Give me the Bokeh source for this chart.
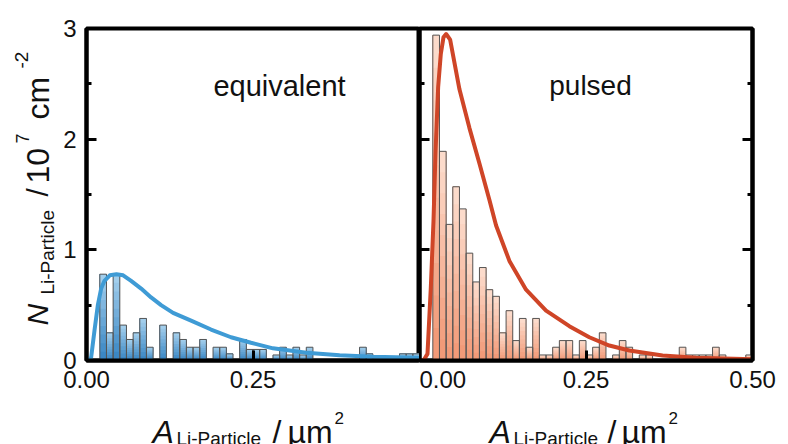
import math
from bokeh.plotting import figure
from bokeh.models import (Range1d, FixedTicker, NumeralTickFormatter, LinearAxis,
                          Label, CustomJSTickFormatter)
from bokeh.layouts import row, column
from bokeh.embed import file_html
from bokeh.resources import INLINE

# ---------------- data ----------------
bin_left = [0.00, 0.01, 0.02, 0.03, 0.04, 0.05, 0.06, 0.07, 0.08, 0.09,
            0.10, 0.11, 0.12, 0.13, 0.14, 0.15, 0.16, 0.17, 0.18, 0.19,
            0.20, 0.21, 0.22, 0.23, 0.24, 0.25, 0.26, 0.27, 0.28, 0.29,
            0.30, 0.31, 0.32, 0.33, 0.34, 0.35, 0.36, 0.37, 0.38, 0.39,
            0.40, 0.41, 0.42, 0.43, 0.44, 0.45, 0.46, 0.47, 0.48, 0.49]
bin_width = 0.01

equiv_counts = [0, 0, 0.78, 0.25, 0.78, 0.32, 0.19, 0.25, 0.38, 0.12,
                0, 0.32, 0, 0.25, 0.19, 0.12, 0.12, 0.19, 0, 0.12,
                0.12, 0.06, 0, 0.19, 0.10, 0.10, 0.10, 0, 0.05, 0.12,
                0.05, 0.12, 0.05, 0.12, 0, 0, 0, 0, 0, 0,
                0, 0.12, 0.06, 0, 0, 0, 0, 0.06, 0.06, 0.06]

pulsed_counts = [0, 0, 2.94, 1.89, 1.23, 1.57, 1.37, 0.97, 0.71, 0.84,
                 0.64, 0.58, 0.25, 0.45, 0.18, 0.38, 0.12, 0.38, 0.05, 0.05,
                 0.12, 0.18, 0.18, 0.05, 0.18, 0.05, 0.12, 0.25, 0, 0.05,
                 0.18, 0.12, 0, 0.05, 0.05, 0, 0, 0, 0, 0.12,
                 0.05, 0.05, 0.05, 0.05, 0.12, 0.05, 0, 0, 0, 0.05]

equiv_fit_x = [0.0, 0.004, 0.007, 0.012, 0.017, 0.022, 0.027, 0.035, 0.045, 0.055,
               0.067, 0.082, 0.097, 0.112, 0.13, 0.157, 0.187, 0.217, 0.247, 0.28,
               0.33, 0.38, 0.43, 0.5]
equiv_fit_y = [0.0, 0.0, 0.03, 0.27, 0.50, 0.65, 0.72, 0.77, 0.78, 0.77,
               0.72, 0.65, 0.57, 0.50, 0.43, 0.36, 0.28, 0.21, 0.16, 0.11,
               0.07, 0.048, 0.033, 0.024]

pulsed_fit_x = [0.0, 0.006, 0.012, 0.017, 0.021, 0.024, 0.028, 0.032, 0.036, 0.040,
                0.046, 0.060, 0.075, 0.090, 0.105, 0.115, 0.135, 0.160, 0.190, 0.225,
                0.255, 0.285, 0.315, 0.365, 0.415, 0.5]
pulsed_fit_y = [0.0, 0.0, 0.06, 0.66, 1.26, 1.87, 2.47, 2.77, 2.92, 2.95,
                2.90, 2.45, 2.10, 1.78, 1.45, 1.22, 0.90, 0.64, 0.45, 0.31,
                0.21, 0.135, 0.09, 0.045, 0.025, 0.012]

y_ticks = [0, 1, 2, 3]
y_minor = [0.5, 1.5, 2.5]
x_ticks_left = [0, 0.25]
x_ticks_right = [0, 0.25, 0.5]
panel_names = ["equivalent", "pulsed"]

# ---------------- layout constants (canvas px) ----------------
FONT = "Liberation Sans"
INK = "#111111"
TOP, FRAME_H, BOTTOM = 28, 332, 40
ROW_H = TOP + FRAME_H + BOTTOM          # 400
XLAB_H = 44
YLAB_W = 56
AXIS_B = 30
FRAME_W, RIGHT_B = 333, 32
X0_LEFT = YLAB_W + AXIS_B               # 86
X0_RIGHT = X0_LEFT + FRAME_W            # 419
Y0 = TOP + FRAME_H                      # 360
LINE_W = 4


def hex2rgb(h):
    h = h.lstrip("#")
    return [int(h[i:i + 2], 16) for i in (0, 2, 4)]


def lerp(c1, c2, t):
    a, b = hex2rgb(c1), hex2rgb(c2)
    return "#%02x%02x%02x" % tuple(int(round(a[i] + (b[i] - a[i]) * t)) for i in range(3))


def make_panel(width, border_left, border_right):
    p = figure(width=width, height=ROW_H,
               x_range=Range1d(0, 0.5), y_range=Range1d(0, 3),
               output_backend="svg", toolbar_location=None,
               min_border_left=border_left, min_border_right=border_right,
               min_border_top=TOP, min_border_bottom=BOTTOM)
    p.grid.visible = False
    p.outline_line_color = "black"
    p.outline_line_width = LINE_W
    p.background_fill_color = "white"
    p.border_fill_color = "white"
    return p


def make_text_canvas(width, height, y_lo, y_hi, b_top, b_bottom):
    p = figure(width=width, height=height,
               x_range=Range1d(0, width), y_range=Range1d(y_lo, y_hi),
               output_backend="svg", toolbar_location=None,
               x_axis_location=None, y_axis_location=None,
               min_border_left=0, min_border_right=0,
               min_border_top=b_top, min_border_bottom=b_bottom)
    p.grid.visible = False
    p.outline_line_color = None
    p.background_fill_color = "white"
    p.border_fill_color = "white"
    return p


def style_axis(ax, labels=True):
    ax.axis_line_width = LINE_W
    ax.axis_line_color = "black"
    ax.major_tick_line_width = 3
    ax.minor_tick_line_width = 3
    ax.major_tick_in = 10
    ax.major_tick_out = 0
    ax.minor_tick_in = 5
    ax.minor_tick_out = 0
    if labels:
        ax.major_label_text_font = FONT
        ax.major_label_text_font_size = "24px"
        ax.major_label_text_color = INK
    else:
        ax.formatter = CustomJSTickFormatter(code="return ''")
        ax.major_label_standoff = 0
        ax.axis_label = None


def draw_hist(p, counts, c_bottom, c_top):
    n_slices = 10
    keep = [(xl, h) for xl, h in zip(bin_left, counts) if h > 0]
    lefts = [xl for xl, h in keep]
    rights = [xl + bin_width for xl, h in keep]
    for k in range(n_slices):
        bots = [h * k / n_slices for xl, h in keep]
        tops = [h for xl, h in keep]
        p.quad(left=lefts, right=rights, bottom=bots, top=tops,
               fill_color=lerp(c_bottom, c_top, (k + 0.5) / n_slices),
               line_color=None)
    p.quad(left=lefts, right=rights, bottom=0, top=[h for xl, h in keep],
           fill_alpha=0, line_color="#555555", line_width=1)


def put(p, text, x, y, size, italic=False, angle=0.0, align="left"):
    p.add_layout(Label(x=x, y=y, x_units="data", y_units="data", text=text,
                       text_font=FONT, text_font_size=size,
                       text_font_style="italic" if italic else "normal",
                       text_color=INK, angle=angle,
                       text_align=align, text_baseline="alphabetic"))


def panel_text(p, text, page_x, page_y, x0, size):
    put(p, text, (page_x - x0) / (FRAME_W / 0.5), (Y0 - page_y) / (FRAME_H / 3.0),
        size, align="center")


# ---------------- left panel ----------------
p1 = make_panel(AXIS_B + FRAME_W, AXIS_B, 0)
draw_hist(p1, equiv_counts, "#3583c2", "#a8d2ee")
p1.line(equiv_fit_x, equiv_fit_y, line_width=4, line_color="#3f9bd5", line_join="round")
p1.yaxis.ticker = FixedTicker(ticks=y_ticks, minor_ticks=y_minor)
p1.xaxis.ticker = FixedTicker(ticks=x_ticks_left, minor_ticks=[])
p1.xaxis.formatter = NumeralTickFormatter(format="0.00")
style_axis(p1.yaxis[0])
style_axis(p1.xaxis[0])
p1.yaxis.major_label_standoff = 10
p1.xaxis.major_label_standoff = 10
panel_text(p1, panel_names[0], 279, 85, X0_LEFT, "29px")

# ---------------- right panel ----------------
p2 = make_panel(FRAME_W + RIGHT_B, 0, RIGHT_B)
draw_hist(p2, pulsed_counts, "#f19673", "#fddfd0")
p2.line(pulsed_fit_x, pulsed_fit_y, line_width=4, line_color="#cf4527", line_join="round")
p2.yaxis.ticker = FixedTicker(ticks=y_ticks, minor_ticks=y_minor)
style_axis(p2.yaxis[0], labels=False)
ax_r = LinearAxis(ticker=FixedTicker(ticks=y_ticks, minor_ticks=y_minor))
style_axis(ax_r, labels=False)
p2.add_layout(ax_r, "right")
p2.xaxis.ticker = FixedTicker(ticks=x_ticks_right, minor_ticks=[])
p2.xaxis.formatter = NumeralTickFormatter(format="0.00")
style_axis(p2.xaxis[0])
p2.xaxis.major_label_standoff = 10
panel_text(p2, panel_names[1], 590, 85, X0_RIGHT, "28px")

# ---------------- y-axis title (rotated pieces) ----------------
ylab = make_text_canvas(YLAB_W, ROW_H, ROW_H - Y0, ROW_H - TOP, TOP, BOTTOM)
rot = math.pi / 2
ypieces = [("N", 37, 325, "30px", True),
           ("Li-Particle", 47, 294, "19px", False),
           ("/", 37, 196, "30px", False),
           ("10", 37, 183, "32px", False),
           ("7", 22, 143, "18px", False),
           ("cm", 37, 119, "32px", False),
           ("-2", 21, 68, "19px", False)]
for txt, px, py, size, it in ypieces:
    put(ylab, txt, px, ROW_H - py, size, italic=it, angle=rot)

# ---------------- x-axis titles ----------------
total_w = YLAB_W + AXIS_B + FRAME_W + FRAME_W + RIGHT_B
xlab = make_text_canvas(total_w, XLAB_H, 0, XLAB_H, 0, 0)
XB = ROW_H + XLAB_H
for start_a, start_slash, start_mu, start_sup in [(152, 272, 287, 334), (489, 607, 621, 668)]:
    put(xlab, "A", start_a, XB - 431, "32px", italic=True)
    put(xlab, "Li-Particle", start_a + 24, XB - 438, "19px")
    put(xlab, "/", start_slash, XB - 431, "32px")
    put(xlab, "µm", start_mu, XB - 431, "32px")
    put(xlab, "2", start_sup, XB - 417, "17px")

layout = column(row(ylab, p1, p2, spacing=0), xlab, spacing=0)
open("out.html", "w").write(file_html(layout, INLINE))
